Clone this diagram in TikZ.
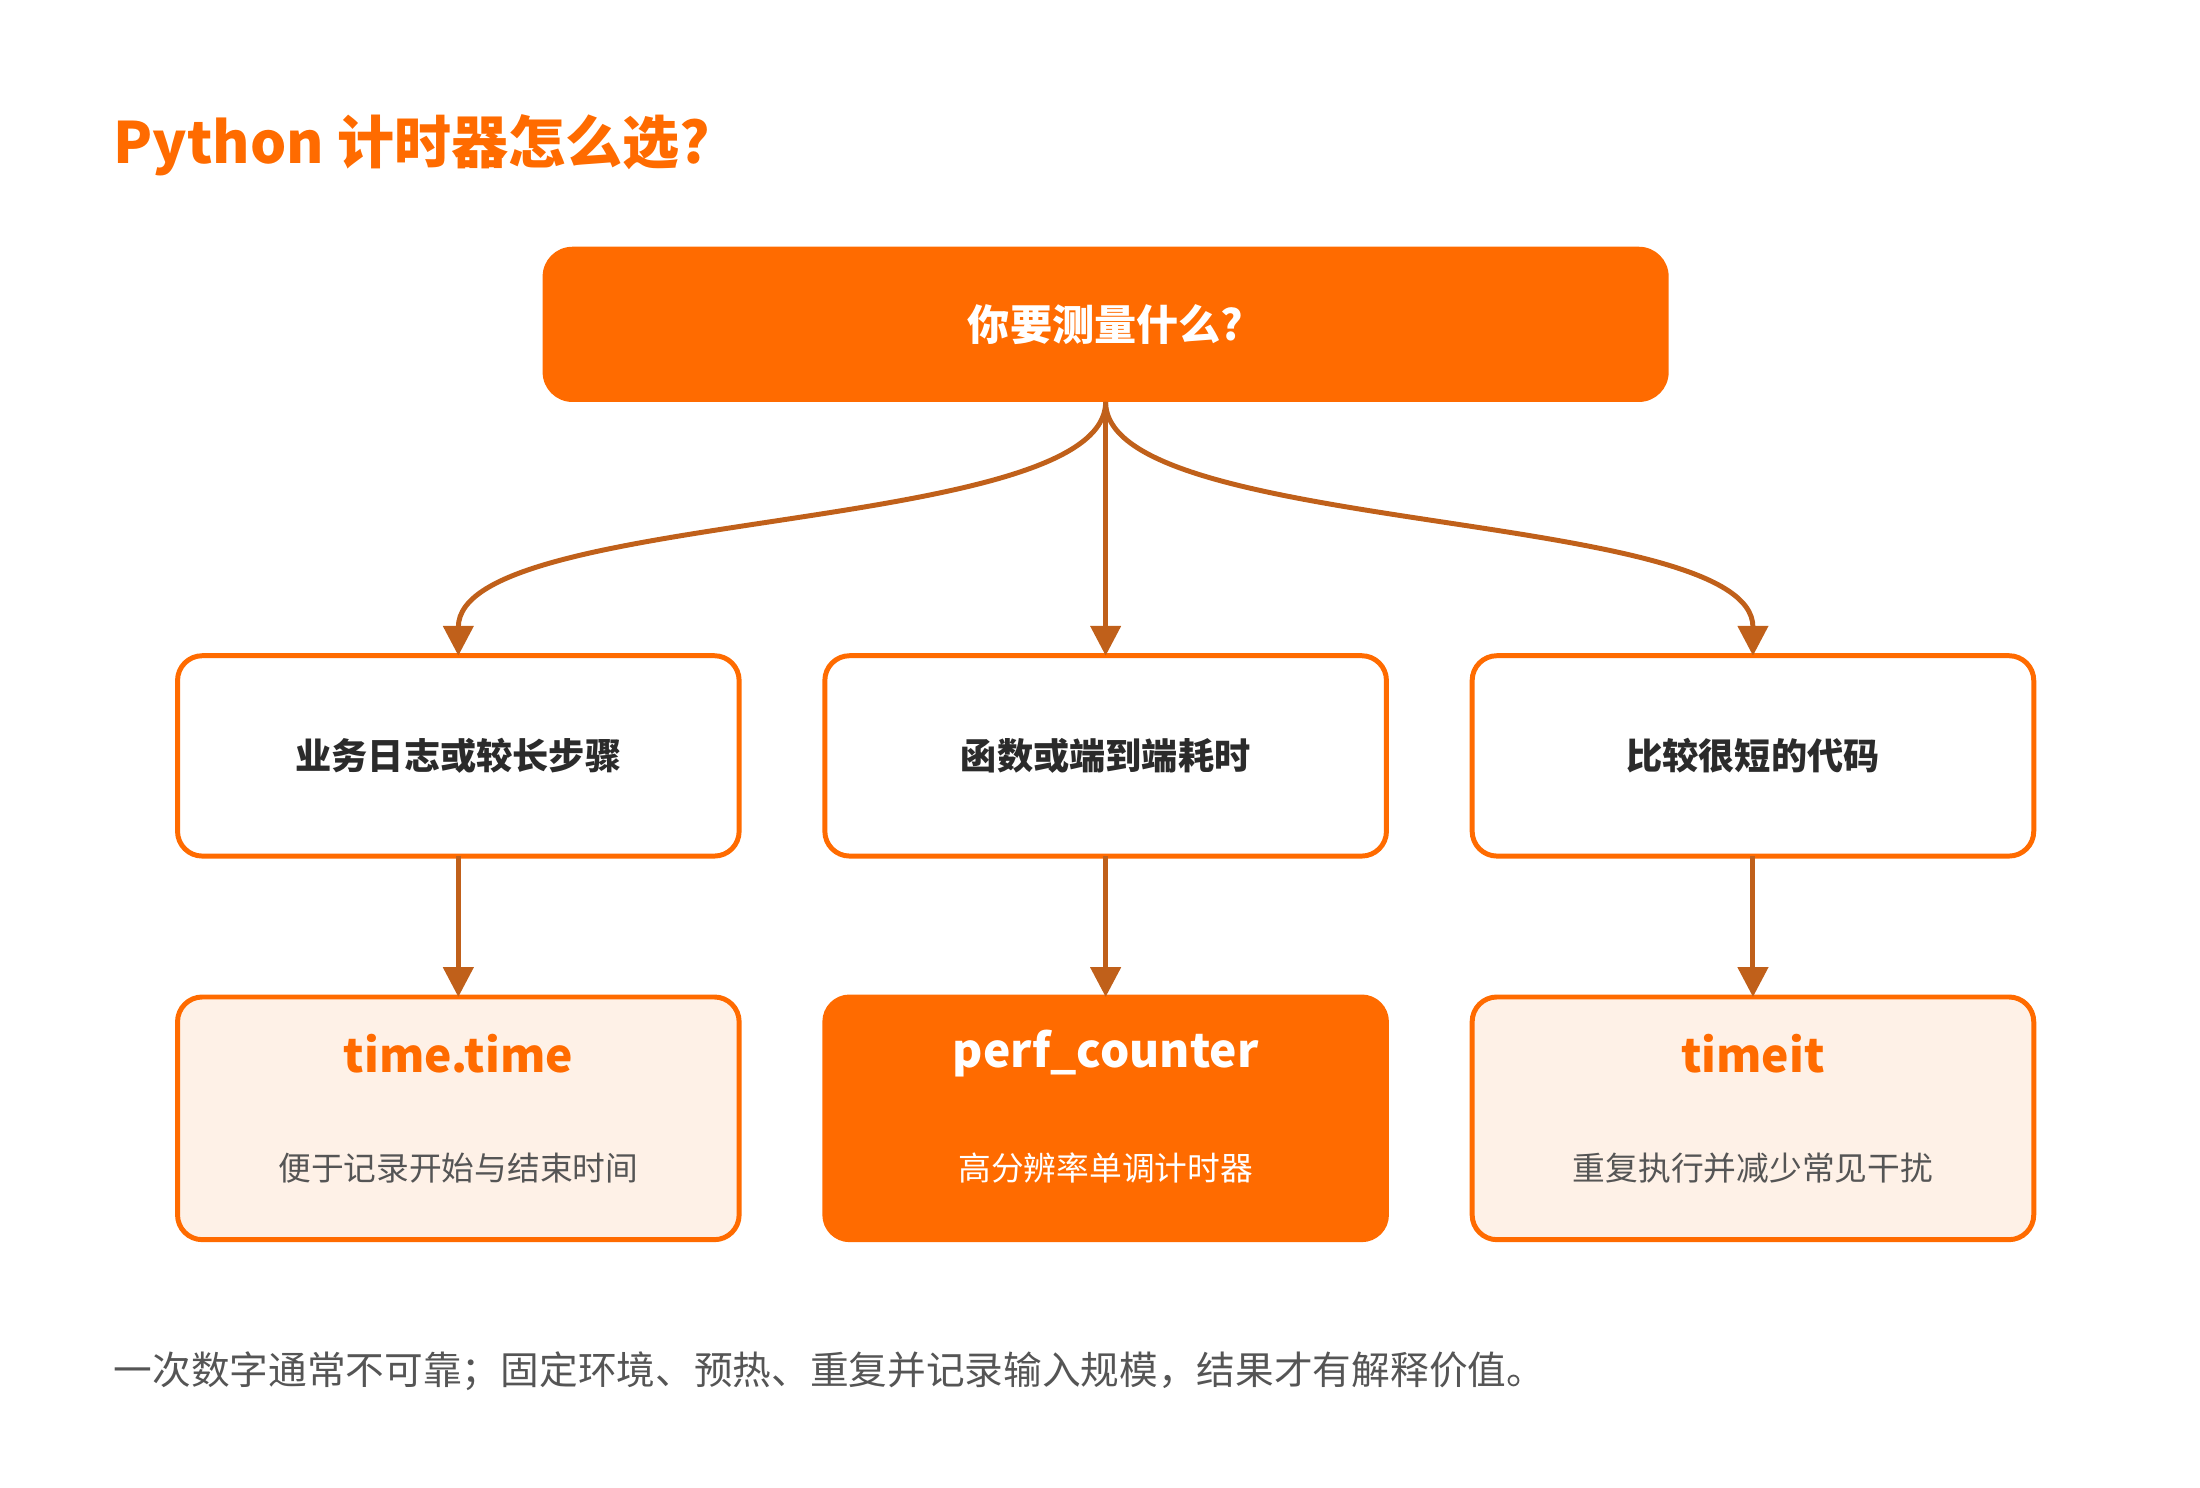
\documentclass[tikz,border=0pt]{standalone}
\usepackage{fontspec}
\setmainfont{Noto Sans CJK SC}
\usetikzlibrary{arrows.meta}
\definecolor{accent}{HTML}{FF6B00}
\definecolor{arrowc}{HTML}{C0601A}
\definecolor{paleorange}{HTML}{FEF1E7}
\definecolor{textdark}{HTML}{2B2B2B}
\definecolor{textgray}{HTML}{555555}
\tikzset{
  choice/.style={draw=accent, line width=1pt, rounded corners=5pt, fill=white, outer sep=0pt,
    minimum width=3.98cm, minimum height=1.42cm, font=\bfseries\fontsize{7.3}{9}\selectfont, text=textdark},
  result/.style={draw=accent, line width=1pt, rounded corners=5pt, fill=paleorange, outer sep=0pt,
    minimum width=3.98cm, minimum height=1.72cm},
  link/.style={draw=arrowc, line width=1pt, -{Triangle[length=6pt,width=6pt]}}
}
\begin{document}
\begin{tikzpicture}[x=0.01cm,y=-0.01cm]
\useasboundingbox (0,0) rectangle (1560,1055);
\node[anchor=west, inner sep=0pt, text=accent, font=\bfseries\fontsize{11.5}{14}\selectfont] (title) at (80,103) {Python 计时器怎么选?};

\node[fill=accent, rounded corners=6pt, minimum width=7.98cm, minimum height=1.1cm, outer sep=0pt,
  text=white, font=\bfseries\fontsize{8.5}{11}\selectfont] (q) at (784,230) {你要测量什么?};

\node[choice] (c1) at (325,536) {业务日志或较长步骤};
\node[choice] (c2) at (784,536) {函数或端到端耗时};
\node[choice] (c3) at (1243,536) {比较很短的代码};

\node[result] (r1) at (325,793) {};
\node[result, fill=accent] (r2) at (784,793) {};
\node[result] (r3) at (1243,793) {};

\node[text=accent, font=\bfseries\fontsize{9.3}{12}\selectfont] (t1) at (325,747) {time.time};
\node[text=white, font=\bfseries\fontsize{9.3}{12}\selectfont] (t2) at (784,747) {perf\_counter};
\node[text=accent, font=\bfseries\fontsize{9.3}{12}\selectfont] (t3) at (1243,747) {timeit};
\node[text=textgray, font=\fontsize{6.6}{9}\selectfont] (s1) at (325,828) {便于记录开始与结束时间};
\node[text=white, font=\fontsize{6.6}{9}\selectfont] (s2) at (784,828) {高分辨率单调计时器};
\node[text=textgray, font=\fontsize{6.6}{9}\selectfont] (s3) at (1243,828) {重复执行并减少常见干扰};

\path[link] (q.south) .. controls (784,380) and (325,360) .. (c1.north);
\path[link] (q.south) -- (c2.north);
\path[link] (q.south) .. controls (784,380) and (1243,360) .. (c3.north);

\path[link] (c1) -- (r1);
\path[link] (c2) -- (r2);
\path[link] (c3) -- (r3);

\node[anchor=west, inner sep=0pt, text=textgray, font=\fontsize{7.8}{10}\selectfont] (note) at (80,972) {一次数字通常不可靠；固定环境、预热、重复并记录输入规模，结果才有解释价值。};
\end{tikzpicture}
\end{document}
